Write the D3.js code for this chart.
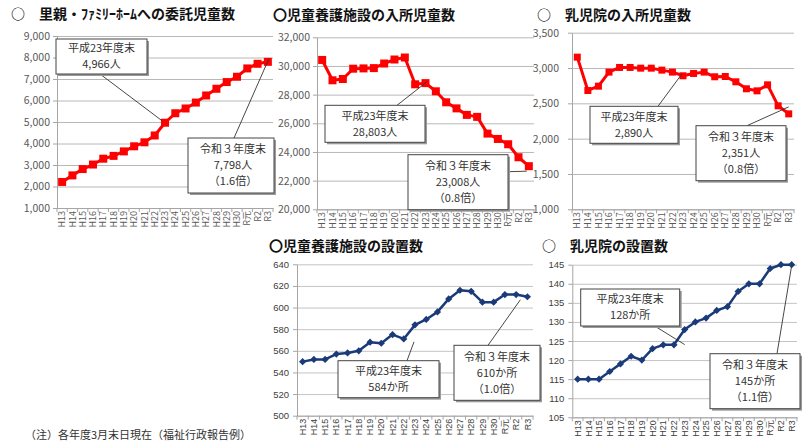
<!DOCTYPE html>
<html>
<head>
<meta charset="utf-8">
<script src="https://cdn.jsdelivr.net/npm/d3@7"></script>
<style>
body { margin: 0; background: #fff; }
svg { display: block; font-family: "Noto Sans CJK JP", "Noto Sans", sans-serif; }
</style>
</head>
<body>
<div id="chart"></div>
<script>
// categories (fiscal years)
var years = ["H13", "H14", "H15", "H16", "H17", "H18", "H19", "H20", "H21", "H22", "H23",
    "H24", "H25", "H26", "H27", "H28", "H29", "H30", "R元", "R2", "R3"];

// series values
var fosterKids = [2211, 2517, 2811, 3022, 3293, 3424, 3633, 3870, 4055, 4373, 4966,
    5407, 5629, 5903, 6234, 6546, 6858, 7104, 7492, 7707, 7798];
var homeKids = [30420, 29000, 29090, 29810, 29830, 29850, 30170, 30450, 30590, 28720, 28803,
    28233, 27465, 27041, 26587, 26449, 25282, 24908, 24539, 23631, 23008];
var infantKids = [3154, 2682, 2743, 2942, 3008, 3008, 2998, 2998, 2970, 2942, 2890,
    2923, 2942, 2876, 2880, 2805, 2706, 2677, 2762, 2465, 2351];
var homeCount = [550, 552, 552, 557, 558, 560, 568, 567, 575, 571, 584,
    589, 596, 608, 616, 615, 605, 605, 612, 612, 610];
var infantCount = [115, 115, 115, 117, 119, 121, 120, 123, 124, 124, 128,
    130, 131, 133, 134, 138, 140, 140, 144, 145, 145];

// tick values
var fosterTicks = [1000, 2000, 3000, 4000, 5000, 6000, 7000, 8000, 9000];
var homeKidsTicks = [20000, 22000, 24000, 26000, 28000, 30000, 32000];
var infantKidsTicks = [1000, 1500, 2000, 2500, 3000, 3500];
var homeCountTicks = [500, 520, 540, 560, 580, 600, 620, 640];
var infantCountTicks = [105, 110, 115, 120, 125, 130, 135, 140, 145];

var lineGap = 16;

var svg = d3.select("#chart")
    .append("svg")
    .attr("width", 808)
    .attr("height", 446);

function drawPanel(p) {
    var width = p.right - p.left;
    var height = p.bottom - p.top;

    svg.append("text")
        .attr("x", p.titleX)
        .attr("y", p.titleY)
        .attr("dy", "0.36em")
        .attr("font-size", "14px")
        .attr("font-weight", "bold")
        .attr("fill", "#111")
        .text(p.title);

    var g = svg.append("g")
        .attr("transform", `translate(${p.left}, ${p.top})`);

    var x = d3.scaleBand().domain(years).range([0, width]);
    var y = d3.scaleLinear().domain([p.ticks[0], p.ticks[p.ticks.length - 1]]).range([height, 0]);
    var cx = (d, i) => x(years[i]) + x.bandwidth() / 2;

    // gridlines
    var grid = g.append("g")
        .call(d3.axisLeft(y).tickValues(p.ticks).tickSize(-width).tickFormat(""));
    grid.select(".domain").remove();
    grid.selectAll("line").attr("stroke", p.grid).attr("stroke-width", 1);

    // y axis
    var yAxis = g.append("g")
        .call(d3.axisLeft(y).tickValues(p.ticks).tickSize(4).tickSizeOuter(0)
            .tickPadding(p.pad).tickFormat(p.fmt));
    yAxis.select(".domain").attr("stroke", p.axis);
    yAxis.selectAll("line").attr("stroke", p.axis);
    yAxis.selectAll("text")
        .attr("fill", p.tickColor)
        .attr("font-size", p.tickSize)
        .attr("font-family", p.tickFont);

    // x axis
    var xAxis = g.append("g")
        .attr("transform", `translate(0, ${height})`)
        .call(d3.axisBottom(x).tickSize(0).tickPadding(0));
    xAxis.select(".domain").attr("stroke", p.axis);
    xAxis.selectAll("text")
        .attr("transform", "rotate(-90)")
        .attr("x", -3)
        .attr("y", 0)
        .attr("dy", "0.35em")
        .style("text-anchor", "end")
        .attr("fill", p.tickColor)
        .attr("font-size", "9px")
        .attr("font-family", p.tickFont);

    // category boundary ticks
    var edges = years.map(d => x(d)).concat([width]);
    xAxis.selectAll(".edge")
        .data(edges)
        .enter()
        .append("line")
        .attr("x1", d => d)
        .attr("x2", d => d)
        .attr("y1", 0)
        .attr("y2", 4)
        .attr("stroke", p.axis);

    // line + markers
    g.append("path")
        .datum(p.values)
        .attr("fill", "none")
        .attr("stroke", p.color)
        .attr("stroke-width", p.lineWidth)
        .attr("stroke-linejoin", "round")
        .attr("d", d3.line().x(cx).y(d => y(d)));

    g.selectAll(".marker")
        .data(p.values)
        .enter()
        .append("path")
        .attr("d", d3.symbol(d3.symbolSquare, p.markerArea))
        .attr("transform", (d, i) => `translate(${cx(d, i)}, ${y(d)}) rotate(${p.markerRot})`)
        .attr("fill", p.color);

    // callouts
    p.callouts.forEach(function (c) {
        var px = cx(p.values[c.i], c.i) + c.dx;
        var py = y(p.values[c.i]) + c.dy;
        var sy = c.sy === "bottom" ? c.h : c.sy;
        g.append("line")
            .attr("x1", c.x + c.sx)
            .attr("y1", c.y + sy)
            .attr("x2", px)
            .attr("y2", py)
            .attr("stroke", "#333")
            .attr("stroke-width", 0.9);
        g.append("rect")
            .attr("x", c.x + 2)
            .attr("y", c.y + 2)
            .attr("width", c.w)
            .attr("height", c.h)
            .attr("fill", "#9a9a9a");
        g.append("rect")
            .attr("x", c.x)
            .attr("y", c.y)
            .attr("width", c.w)
            .attr("height", c.h)
            .attr("fill", "#fff")
            .attr("stroke", "#444")
            .attr("stroke-width", 1);
        var first = (c.h - (c.lines.length - 1) * lineGap) / 2;
        var tx = c.x + c.w / 2 + (c.tx || 0);
        c.lines.forEach(function (t, k) {
            g.append("text")
                .attr("x", tx)
                .attr("y", c.y + first + k * lineGap)
                .attr("dy", "0.36em")
                .attr("text-anchor", "middle")
                .attr("font-size", "11px")
                .attr("fill", "#333")
                .text(t);
        });
    });
}

var redStyle = {
    color: "#ff0000", lineWidth: 3, markerArea: 64, markerRot: 0,
    grid: "#b8b8b8", axis: "#a6a6a6", tickColor: "#595959", tickSize: "10.5px",
    tickFont: "Noto Sans CJK JP", fmt: d3.format(",")
};
var navyStyle = {
    color: "#1b3a7a", lineWidth: 2.5, markerArea: 26, markerRot: 45,
    grid: "#c4c4c4", axis: "#a6a6a6", tickColor: "#404040", tickSize: "9.5px",
    tickFont: "Liberation Sans", fmt: d3.format("d")
};

drawPanel(Object.assign({}, redStyle, {
    title: "○　里親・ﾌｧﾐﾘｰﾎｰﾑへの委託児童数", titleX: 11, titleY: 14,
    left: 57, right: 273, top: 36, bottom: 208, pad: 3,
    values: fosterKids, ticks: fosterTicks,
    callouts: [
        { x: -1, y: 3, w: 91, h: 35, sx: 44, sy: "bottom", i: 10, dx: -3, dy: -2,
          lines: ["平成23年度末", "4,966人"] },
        { x: 131, y: 102, w: 86, h: 55, sx: 46, sy: 0, i: 20, dx: 1, dy: -3, tx: 2,
          lines: ["令和３年度末", "7,798人", "（1.6倍）"] }
    ]
}));

drawPanel(Object.assign({}, redStyle, {
    title: "〇児童養護施設の入所児童数", titleX: 273, titleY: 15,
    left: 317, right: 534, top: 37.3, bottom: 209.3, pad: 3,
    values: homeKids, ticks: homeKidsTicks,
    callouts: [
        { x: 8, y: 68, w: 100, h: 37, sx: 72, sy: 0, i: 10, dx: 1, dy: -1,
          lines: ["平成23年度末", "28,803人"] },
        { x: 91, y: 117.4, w: 100, h: 55, sx: 100, sy: 17, i: 20, dx: -2, dy: 5,
          lines: ["令和３年度末", "23,008人", "（0.8倍）"] }
    ]
}));

drawPanel(Object.assign({}, redStyle, {
    title: "○　乳児院の入所児童数", titleX: 537, titleY: 15,
    left: 572, right: 794, top: 32.7, bottom: 209.3, pad: 9,
    values: infantKids, ticks: infantKidsTicks, markerArea: 49,
    callouts: [
        { x: 18, y: 73.6, w: 88, h: 37, sx: 68, sy: 0, i: 10, dx: -1, dy: -2,
          lines: ["平成23年度末", "2,890人"] },
        { x: 124, y: 93, w: 90, h: 55, sx: 51, sy: 0, i: 20, dx: 0, dy: -7,
          lines: ["令和３年度末", "2,351人", "（0.8倍）"] }
    ]
}));

drawPanel(Object.assign({}, navyStyle, {
    title: "〇児童養護施設の設置数", titleX: 269, titleY: 246,
    left: 297, right: 533, top: 264.3, bottom: 415.7, pad: 4,
    values: homeCount, ticks: homeCountTicks,
    callouts: [
        { x: 41, y: 96.4, w: 101, h: 37, sx: 69, sy: 0, i: 10, dx: -1, dy: 17,
          lines: ["平成23年度末", "584か所"] },
        { x: 157, y: 81, w: 86, h: 55, sx: 34, sy: 0, i: 20, dx: -7, dy: 3,
          lines: ["令和３年度末", "610か所", "（1.0倍）"] }
    ]
}));

drawPanel(Object.assign({}, navyStyle, {
    title: "○　乳児院の設置数", titleX: 542, titleY: 246,
    left: 572.3, right: 797, top: 264.7, bottom: 417.3, pad: 4,
    values: infantCount, ticks: infantCountTicks,
    callouts: [
        { x: 8.4, y: 24.3, w: 99, h: 37, sx: 74, sy: "bottom", i: 10, dx: 0, dy: 15,
          lines: ["平成23年度末", "128か所"] },
        { x: 137.7, y: 89, w: 90, h: 55, sx: 67, sy: 0, i: 20, dx: 0, dy: 1,
          lines: ["令和３年度末", "145か所", "（1.1倍）"] }
    ]
}));

// footnote
svg.append("text")
    .attr("x", 25)
    .attr("y", 435)
    .attr("dy", "0.36em")
    .attr("font-size", "11px")
    .attr("fill", "#333")
    .text("（注）各年度3月末日現在（福祉行政報告例）");
</script>
</body>
</html>
